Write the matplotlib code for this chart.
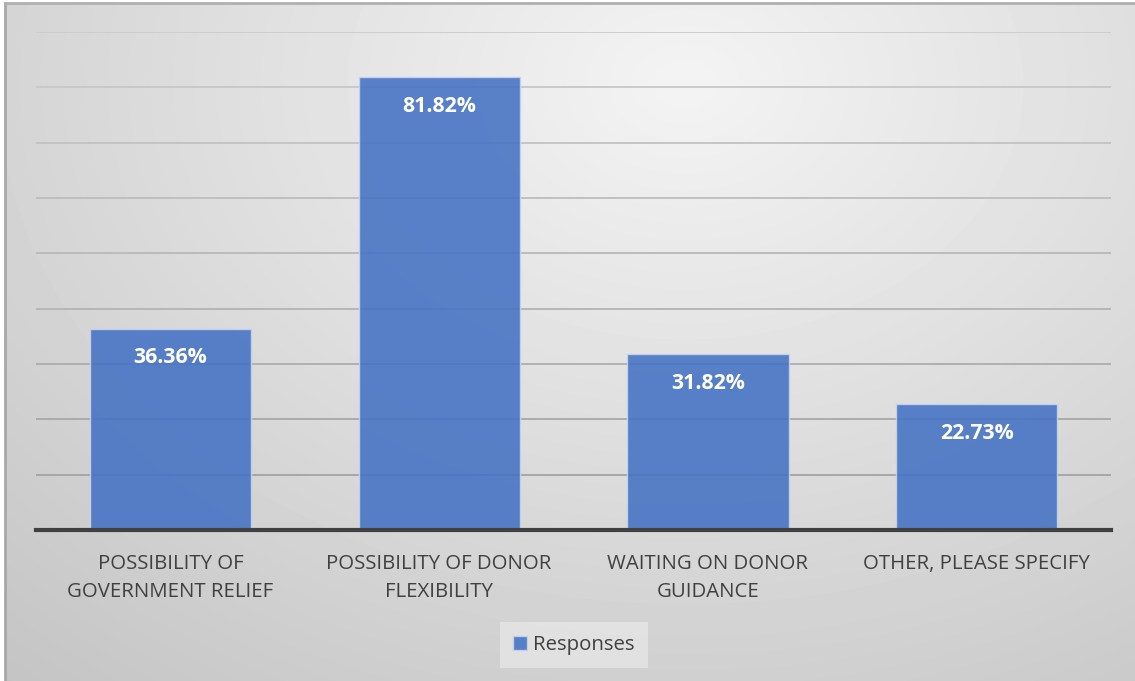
import numpy as np
import matplotlib.pyplot as plt

categories = ["POSSIBILITY OF\nGOVERNMENT RELIEF",
              "POSSIBILITY OF DONOR\nFLEXIBILITY",
              "WAITING ON DONOR\nGUIDANCE",
              "OTHER, PLEASE SPECIFY"]
responses = [36.36, 81.82, 31.82, 22.73]
series_name = "Responses"

W, H = 1135, 681
fig = plt.figure(figsize=(W / 100, H / 100), dpi=100)
fig.patch.set_facecolor("white")

# radial grey background behind the whole chart
bg = fig.add_axes([5 / W, 0, 1130 / W, 678 / H], zorder=0)
yy, xx = np.mgrid[0:678, 0:1130]
r = np.hypot((xx - 680) / 950.0, (yy - 80) / 720.0)
shade = 0.955 - 0.17 * np.clip(r, 0, 1.2)
bg.imshow(shade, cmap="gray", vmin=0, vmax=1, aspect="auto",
          interpolation="bilinear")
bg.set_axis_off()
fig.add_artist(plt.Line2D([5 / W, 5 / W], [0, 678 / H], color="#a8a8a8", lw=2))
fig.add_artist(plt.Line2D([5 / W, 1 / 1], [678 / H, 678 / H], color="#b0b0b0", lw=2))

ax = fig.add_axes([36 / W, (H - 530) / H, 1075 / W, 498 / H], zorder=1)
ax.patch.set_alpha(0)

x = np.arange(len(categories))
bars = ax.bar(x, responses, width=0.6, color="#4472C4", alpha=0.88,
              edgecolor="#c8d4ec", linewidth=1, zorder=3)

ax.set_ylim(0, 90)
ax.set_xlim(-0.5, len(categories) - 0.5)
# gridlines get a touch darker toward the baseline
for lvl in range(10, 91, 10):
    g = 0.62 + 0.18 * (lvl / 90.0)
    ax.axhline(lvl, color=(g, g, g), linewidth=1.3, zorder=1)
ax.set_yticks([])
ax.tick_params(axis="x", length=0, pad=17)
for s in ["left", "right", "top"]:
    ax.spines[s].set_visible(False)
ax.spines["bottom"].set_color("#404040")
ax.spines["bottom"].set_linewidth(3)
ax.spines["bottom"].set_zorder(4)

ax.set_xticks(x)
ax.set_xticklabels(categories, fontsize=14.7, color="#404040",
                   family="Open Sans", linespacing=1.55)

for rect, v in zip(bars, responses):
    ax.annotate(f"{v:.2f}%", (rect.get_x() + rect.get_width() / 2, v),
                xytext=(0, -21), textcoords="offset points", ha="center",
                va="center", color="white", fontsize=15.3, fontweight="bold",
                family="Open Sans", zorder=5)

leg = fig.legend([bars[0]], [series_name], loc="center",
                 bbox_to_anchor=(574 / W, (H - 645) / H), frameon=True,
                 prop={"family": "Open Sans", "size": 14.7},
                 handlelength=0.7, handleheight=0.7, handletextpad=0.3,
                 borderpad=0.65, borderaxespad=0, fancybox=False)
leg.get_frame().set_facecolor("#e6e6e6")
leg.get_frame().set_edgecolor("none")
leg.get_frame().set_alpha(0.8)
for t in leg.get_texts():
    t.set_color("#404040")

fig.savefig("out.png", dpi=100)
